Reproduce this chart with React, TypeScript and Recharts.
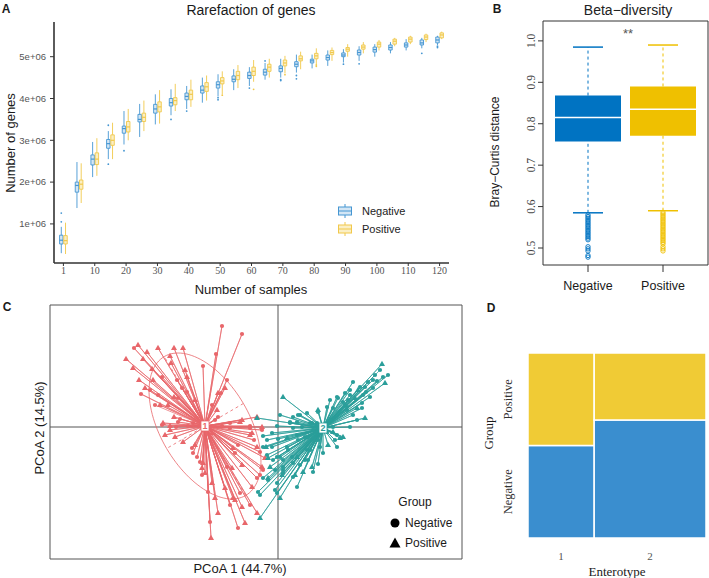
import React from 'react';
import { ComposedChart, Scatter, XAxis, YAxis, ReferenceArea, ReferenceLine } from 'recharts';

const SANS = '"Liberation Sans", Arial, Helvetica, sans-serif';
const SERIF = '"Liberation Serif", "Times New Roman", serif';

// ---------------- Panel A: rarefaction of genes (millions) ----------------
const sampleSizes = [1, 5, 10, 15, 20, 25, 30, 35, 40, 45, 50, 55, 60, 65, 70, 75, 80, 85, 90, 95, 100, 105, 110, 115, 120];
const sampleTickLabels = [1, 10, 20, 30, 40, 50, 60, 70, 80, 90, 100, 110, 120];
const geneTicks = [1, 2, 3, 4, 5];
// [lower whisker, Q1, median, Q3, upper whisker]
const negativeRare = [
  [0.3, 0.52, 0.61, 0.73, 0.93], [1.38, 1.76, 1.92, 2.0, 2.48], [2.12, 2.41, 2.55, 2.65, 2.96],
  [2.55, 2.81, 2.92, 3.02, 3.22], [2.9, 3.17, 3.28, 3.34, 3.7], [3.08, 3.44, 3.5, 3.62, 3.87],
  [3.38, 3.65, 3.75, 3.86, 4.1], [3.6, 3.82, 3.9, 4.0, 4.22], [3.75, 3.97, 4.05, 4.13, 4.3],
  [3.9, 4.13, 4.2, 4.3, 4.5], [4.05, 4.25, 4.33, 4.4, 4.58], [4.2, 4.4, 4.46, 4.54, 4.7],
  [4.3, 4.48, 4.55, 4.63, 4.75], [4.45, 4.56, 4.63, 4.7, 4.85], [4.5, 4.64, 4.72, 4.78, 4.95],
  [4.62, 4.76, 4.82, 4.88, 5.05], [4.72, 4.85, 4.9, 4.94, 5.05], [4.78, 4.92, 4.98, 5.04, 5.15],
  [4.86, 5.0, 5.04, 5.09, 5.18], [4.9, 5.04, 5.1, 5.16, 5.25], [5.0, 5.11, 5.17, 5.23, 5.3],
  [5.08, 5.16, 5.22, 5.28, 5.35], [5.15, 5.23, 5.28, 5.33, 5.42], [5.2, 5.28, 5.33, 5.4, 5.45],
  [5.28, 5.33, 5.4, 5.47, 5.5],
];
const positiveRare = [
  [0.28, 0.52, 0.6, 0.72, 1.03], [1.5, 1.83, 1.95, 2.05, 2.45], [2.15, 2.42, 2.55, 2.7, 3.05],
  [2.55, 2.88, 3.0, 3.13, 3.42], [3.0, 3.2, 3.32, 3.45, 3.75], [3.22, 3.45, 3.55, 3.65, 3.95],
  [3.4, 3.68, 3.8, 3.92, 4.2], [3.7, 3.85, 3.95, 4.02, 4.35], [3.8, 3.97, 4.1, 4.2, 4.45],
  [3.95, 4.17, 4.28, 4.38, 4.55], [4.1, 4.35, 4.42, 4.5, 4.65], [4.25, 4.45, 4.55, 4.65, 4.8],
  [4.4, 4.55, 4.65, 4.75, 4.92], [4.5, 4.65, 4.75, 4.82, 4.95], [4.6, 4.78, 4.85, 4.92, 5.02],
  [4.7, 4.9, 4.95, 5.02, 5.12], [4.8, 4.95, 5.02, 5.08, 5.2], [4.9, 5.05, 5.1, 5.15, 5.22],
  [5.0, 5.13, 5.18, 5.22, 5.3], [5.08, 5.18, 5.23, 5.28, 5.35], [5.15, 5.23, 5.3, 5.35, 5.4],
  [5.25, 5.3, 5.37, 5.42, 5.45], [5.3, 5.35, 5.42, 5.47, 5.5], [5.35, 5.41, 5.47, 5.52, 5.55],
  [5.42, 5.45, 5.52, 5.57, 5.6],
];
// [sample size, genes (millions)]
const negativeRareOutliers = [
  [1, 1.05], [1, 1.26], [15, 2.43], [15, 3.36], [20, 2.75], [35, 3.5], [40, 3.7], [50, 3.97], [50, 4.02],
  [60, 4.25], [65, 4.9], [70, 4.45], [70, 4.43], [75, 4.55], [75, 4.47], [90, 4.82], [95, 4.83],
  [115, 5.08], [120, 5.25], [120, 5.22],
];
const positiveRareOutliers = [[50, 4.08], [60, 4.22], [70, 4.57], [80, 4.77], [80, 4.8]];

// ---------------- Panel B: beta diversity ----------------
const betaGroups = ['Negative', 'Positive'];
const betaTicks = [0.5, 0.6, 0.7, 0.8, 0.9, 1.0];
// [lower whisker, Q1, median, Q3, upper whisker]
const betaStats = [
  [0.585, 0.757, 0.815, 0.868, 0.985],
  [0.59, 0.771, 0.835, 0.89, 0.99],
];
const betaNegativeOutliers = [0.58, 0.576, 0.572, 0.568, 0.564, 0.56, 0.556, 0.552, 0.548, 0.544, 0.54, 0.536, 0.532, 0.528, 0.524, 0.52, 0.503, 0.498, 0.493, 0.482, 0.478];
const betaPositiveOutliers = [0.586, 0.582, 0.578, 0.574, 0.57, 0.566, 0.562, 0.558, 0.554, 0.55, 0.546, 0.542, 0.538, 0.534, 0.53, 0.526, 0.522, 0.518, 0.514, 0.51, 0.503, 0.498, 0.493];

// ---------------- Panel C: PCoA ----------------
const enterotype1Centroid = [-73, 1];
const enterotype2Centroid = [45, -1];
// [PCoA1, PCoA2, group] c = Negative, t = Positive
const enterotype1Points: [number, number, string][] = [
  [-56, 101, 'c'], [-36, 93, 'c'], [-140, 82, 't'], [-144, 79, 'c'], [-131, 75, 't'], [-120, 79, 't'], [-104, 79, 't'], [-95, 79, 't'],
  [-152, 68, 't'], [-135, 68, 't'], [-108, 71, 't'], [-62, 73, 'c'], [-145, 59, 't'], [-126, 58, 't'], [-107, 64, 't'], [-75, 61, 'c'],
  [-93, 57, 't'], [-139, 47, 't'], [-125, 47, 't'], [-101, 47, 'c'], [-91, 50, 't'], [-116, 50, 'c'], [-133, 39, 't'], [-128, 37, 'c'],
  [-120, 32, 'c'], [-96, 39, 'c'], [-91, 35, 'c'], [-137, 33, 'c'], [-51, 47, 'c'], [-53, 39, 't'], [-57, 34, 'c'], [-60, 34, 't'],
  [-104, 30, 't'], [-100, 29, 'c'], [-83, 27, 't'], [-110, 22, 't'], [-118, 22, 't'], [-66, 22, 'c'], [-61, 17, 't'], [-104, 10, 't'],
  [-98, 8, 'c'], [-115, 4, 't'], [-108, 1, 't'], [-102, 0, 'c'], [-90, 1, 'c'], [-63, 7, 'c'], [-60, 10, 'c'], [-21, 10, 't'],
  [-36, 7, 't'], [-48, 4, 'c'], [-16, 0, 't'], [-28, 1, 'c'], [-116, 2, 'c'], [-113, -8, 't'], [-103, -10, 't'], [-100, 5, 'c'],
  [-85, 4, 'c'], [-56, 1, 'c'], [-48, -1, 'c'], [-38, 5, 't'], [-26, -6, 't'], [-28, -1, 'c'], [-16, -3, 'c'], [-95, -15, 't'],
  [-86, -21, 'c'], [-85, -26, 'c'], [-81, -30, 'c'], [-83, -18, 't'], [-78, -35, 'c'], [-75, -36, 't'], [-76, -41, 't'], [-73, -46, 't'],
  [-76, -48, 'c'], [-66, -56, 't'], [-70, -65, 'c'], [-63, -71, 't'], [-60, -86, 't'], [-68, -95, 'c'], [-67, -111, 't'], [-51, -40, 'c'],
  [-46, -41, 't'], [-43, -26, 'c'], [-36, -38, 't'], [-53, -61, 't'], [-45, -71, 't'], [-38, -66, 'c'], [-48, -78, 'c'], [-43, -73, 't'],
  [-36, -80, 't'], [-26, -60, 't'], [-21, -51, 'c'], [-18, -48, 'c'], [-16, -40, 't'], [-18, -25, 'c'], [-21, -20, 't'], [-24, -13, 'c'],
  [-28, -8, 't'], [-40, -18, 'c'], [-45, -21, 't'], [-40, -101, 'c'], [-33, -96, 't'], [-21, -86, 't'], [-28, -78, 'c'], [-108, -3, 't'],
  [-66, -6, 't'], [-13, -31, 't'], [-15, -43, 'c'], [-123, 22, 'c'],
];
const enterotype2Points: [number, number, string][] = [
  [104, 63, 't'], [107, 44, 't'], [105, 50, 'c'], [99, 46, 'c'], [95, 47, 'c'], [75, 45, 'c'], [87, 40, 'c'], [80, 37, 't'],
  [72, 32, 'c'], [60, 29, 'c'], [5, 30, 't'], [85, 32, 'c'], [84, 19, 'c'], [87, 9, 't'], [75, 12, 'c'], [79, 7, 'c'],
  [69, 17, 'c'], [65, 25, 'c'], [55, 19, 'c'], [49, 20, 'c'], [40, 15, 'c'], [22, 12, 'c'], [12, 5, 'c'], [19, 5, 'c'],
  [-1, 1, 'c'], [15, -1, 'c'], [34, 4, 'c'], [-21, 9, 't'], [-15, -9, 'c'], [55, -5, 't'], [62, -11, 't'], [65, -10, 't'],
  [57, -13, 'c'], [50, -18, 't'], [59, -20, 'c'], [40, -13, 'c'], [40, -37, 'c'], [29, -23, 'c'], [30, -33, 'c'], [22, -38, 'c'],
  [25, -45, 't'], [15, -50, 'c'], [17, -48, 't'], [19, -60, 'c'], [5, -33, 'c'], [-1, -30, 'c'], [-5, -33, 'c'], [-10, -31, 't'],
  [5, -43, 'c'], [4, -48, 't'], [-10, -51, 't'], [-15, -51, 'c'], [-1, -56, 'c'], [2, -71, 't'], [-18, -68, 'c'], [-3, -63, 'c'],
  [0, -12, 'c'], [9, -11, 't'], [-6, -20, 'c'], [10, -23, 'c'], [14, -30, 'c'], [19, -8, 'c'], [27, -10, 'c'], [-18, -91, 't'],
  [20, 12, 'c'], [90, 45, 'c'], [-12, -20, 't'], [-15, -20, 'c'], [-20, -65, 'c'], [-10, -53, 'c'], [-1, -66, 'c'], [5, -46, 'c'],
  [59, -8, 'c'], [45, -26, 'c'], [35, -45, 'c'], [34, -40, 't'], [19, -30, 't'], [2, 12, 'c'], [-11, -13, 'c'], [-6, -6, 'c'],
  [-11, -28, 'c'], [-8, -40, 't'], [-3, -43, 'c'], [12, 4, 'c'], [15, 10, 'c'], [29, 14, 'c'], [40, 17, 't'], [52, 27, 'c'],
  [59, 30, 'c'], [67, 34, 'c'], [72, 37, 'c'], [82, 40, 'c'], [95, 39, 'c'], [92, 30, 'c'], [84, 24, 'c'], [79, 19, 't'],
  [69, 20, 'c'], [52, 7, 'c'], [55, 0, 'c'], [72, 0, 'c'], [42, -20, 'c'], [32, -23, 'c'], [27, -33, 'c'], [15, -36, 'c'],
  [9, -20, 'c'], [2, -30, 'c'], [5, -40, 'c'], [20, -13, 'c'], [30, -10, 'c'], [49, -5, 'c'], [35, -3, 'c'], [39, 4, 'c'],
  [32, 4, 'c'], [24, 0, 'c'], [70, 27, 'c'], [77, 29, 't'], [88, 35, 'c'], [67, 22, 'c'], [97, 52, 'c'], [110, 52, 'c'], [102, 57, 'c'],
];
// ellipse of enterotype 1: semi-axes and rotation (degrees)
const ellipse1Axes = [80.5, 44.5];
const ellipse1Angle = -59.6;
const pcoaXDomain = [-228, 184];
const pcoaYDomain = [-132, 122];

// ---------------- Panel D: mosaic ----------------
const enterotypeLabels = ['1', '2'];
const enterotypeNegative = [45, 97];
const enterotypePositive = [45, 55];

// ---------------- colours ----------------
const A_NEG = '#4596D2';
const A_NEG_FILL = '#D3E6F5';
const A_POS = '#F1C84B';
const A_POS_FILL = '#FBEFC4';
const B_NEG = '#0073C2';
const B_POS = '#EFC000';
const C_RED = '#E8666A';
const C_TEAL = '#2A9E9A';
const D_YEL = '#F0CB35';
const D_BLUE = '#3A8ECF';

type TP = { x: number; y: number; children: React.ReactNode; size?: number; family?: string; color?: string; rotate?: number; weight?: any; left?: boolean };
const T = ({ x, y, children, size = 12, family = SANS, color = '#1a1a1a', rotate = 0, weight = 'normal', left = false }: TP) => (
  <div
    style={{
      position: 'absolute', left: x, top: y,
      transform: `translate(${left ? '0' : '-50%'},-50%) rotate(${rotate}deg)`,
      fontSize: size, fontFamily: family, color, fontWeight: weight, whiteSpace: 'nowrap', lineHeight: 1,
    }}
  >
    {children}
  </div>
);

function rareElements(stats: number[][], offset: number, stroke: string, fill: string, key: string) {
  const HW = 0.11;
  return stats.flatMap((s, i) => {
    const cx = i + offset;
    const [lo, q1, med, q3, hi] = s;
    return [
      <ReferenceLine key={`${key}wl${i}`} segment={[{ x: cx, y: lo }, { x: cx, y: q1 }]} stroke={stroke} strokeWidth={0.9} ifOverflow="visible" />,
      <ReferenceLine key={`${key}wh${i}`} segment={[{ x: cx, y: q3 }, { x: cx, y: hi }]} stroke={stroke} strokeWidth={0.9} ifOverflow="visible" />,
      <ReferenceArea key={`${key}b${i}`} x1={cx - HW} x2={cx + HW} y1={q1} y2={q3} fill={fill} fillOpacity={1} stroke={stroke} strokeWidth={0.9} ifOverflow="visible" />,
      <ReferenceLine key={`${key}m${i}`} segment={[{ x: cx - HW, y: med }, { x: cx + HW, y: med }]} stroke={stroke} strokeWidth={1.2} ifOverflow="visible" />,
    ];
  });
}

function PanelA() {
  const xTicks = sampleTickLabels.map((v) => sampleSizes.indexOf(v));
  const OFF = 0.135;
  const negOut = negativeRareOutliers.map(([s, v]) => ({ x: sampleSizes.indexOf(s) - OFF, y: v }));
  const posOut = positiveRareOutliers.map(([s, v]) => ({ x: sampleSizes.indexOf(s) + OFF, y: v }));
  return (
    <div style={{ position: 'absolute', left: 0, top: 0, width: 470, height: 300 }}>
      <ComposedChart width={470} height={300} margin={{ top: 22, right: 21, bottom: 17, left: 0 }}>
        <XAxis type="number" dataKey="x" domain={[-0.6, 24.6]} allowDataOverflow ticks={xTicks} interval={0}
          tickFormatter={(v: number) => String(sampleSizes[v])} height={20}
          axisLine={{ stroke: '#333', strokeWidth: 1.6 }} tickLine={{ stroke: '#333' }} tickSize={3} tickMargin={1}
          tick={{ fontFamily: SERIF, fontSize: 10, fill: '#555' }} />
        <YAxis type="number" dataKey="y" domain={[0.065, 5.83]} allowDataOverflow ticks={geneTicks} width={54}
          tickFormatter={(v: number) => `${v}e+06`}
          axisLine={{ stroke: '#333', strokeWidth: 1.6 }} tickLine={{ stroke: '#333' }} tickSize={4} tickMargin={4}
          tick={{ fontFamily: SANS, fontSize: 9.5, fill: '#555' }} />
        {rareElements(negativeRare, -OFF, A_NEG, A_NEG_FILL, 'n')}
        {rareElements(positiveRare, OFF, A_POS, A_POS_FILL, 'p')}
        <Scatter data={negOut} isAnimationActive={false} shape={(p: any) => <circle cx={p.cx} cy={p.cy} r={0.9} fill={A_NEG} />} />
        <Scatter data={posOut} isAnimationActive={false} shape={(p: any) => <circle cx={p.cx} cy={p.cy} r={0.9} fill={A_POS} />} />
      </ComposedChart>
    </div>
  );
}

function PanelB() {
  const colors = [B_NEG, B_POS];
  const HW = 0.44;
  const CAP = 0.2;
  const els = betaStats.flatMap((s, i) => {
    const cx = i + 1;
    const [lo, q1, med, q3, hi] = s;
    const c = colors[i];
    return [
      <ReferenceLine key={`bwl${i}`} segment={[{ x: cx, y: lo }, { x: cx, y: q1 }]} stroke={c} strokeWidth={1} strokeDasharray="3 3" ifOverflow="visible" />,
      <ReferenceLine key={`bwh${i}`} segment={[{ x: cx, y: q3 }, { x: cx, y: hi }]} stroke={c} strokeWidth={1} strokeDasharray="3 3" ifOverflow="visible" />,
      <ReferenceLine key={`bcl${i}`} segment={[{ x: cx - CAP, y: lo }, { x: cx + CAP, y: lo }]} stroke={c} strokeWidth={1.5} ifOverflow="visible" />,
      <ReferenceLine key={`bch${i}`} segment={[{ x: cx - CAP, y: hi }, { x: cx + CAP, y: hi }]} stroke={c} strokeWidth={1.5} ifOverflow="visible" />,
      <ReferenceArea key={`bb${i}`} x1={cx - HW} x2={cx + HW} y1={q1} y2={q3} fill={c} fillOpacity={1} stroke="none" ifOverflow="visible" />,
      <ReferenceLine key={`bm${i}`} segment={[{ x: cx - HW, y: med }, { x: cx + HW, y: med }]} stroke="#fff" strokeWidth={1.6} ifOverflow="visible" />,
    ];
  });
  const negOut = betaNegativeOutliers.map((v) => ({ x: 1, y: v }));
  const posOut = betaPositiveOutliers.map((v) => ({ x: 2, y: v }));
  const ring = (c: string) => (p: any) => <circle cx={p.cx} cy={p.cy} r={2.2} fill="none" stroke={c} strokeWidth={0.9} />;
  return (
    <div style={{ position: 'absolute', left: 480, top: 0, width: 229, height: 300 }}>
      <ComposedChart width={229} height={300} margin={{ top: 21, right: 1, bottom: 5, left: 0 }}>
        <XAxis type="number" dataKey="x" domain={[0.4, 2.6]} allowDataOverflow ticks={[1, 2]} interval={0}
          tickFormatter={(v: number) => betaGroups[v - 1]} height={30} axisLine={false}
          tickLine={{ stroke: '#333' }} tickSize={7} tickMargin={9}
          tick={{ fontFamily: SANS, fontSize: 12.5, fill: '#1a1a1a' }} />
        <YAxis type="number" dataKey="y" domain={[0.459, 1.048]} allowDataOverflow ticks={betaTicks} width={63} interval={0}
          axisLine={false} tickLine={{ stroke: '#333' }} tickSize={5} tickMargin={2}
          tick={(p: any) => (
            <text x={p.x - 1} y={p.y} transform={`rotate(-90 ${p.x - 1} ${p.y})`} textAnchor="middle"
              fontFamily={SERIF} fontSize={11.5} fill="#444">{Number(p.payload.value).toFixed(1)}</text>
          )} />
        <ReferenceArea x1={0.4} x2={2.6} y1={0.459} y2={1.048} fill="none" stroke="#333" strokeWidth={1} ifOverflow="visible" />
        {els}
        <Scatter data={negOut} isAnimationActive={false} shape={ring(B_NEG)} />
        <Scatter data={posOut} isAnimationActive={false} shape={ring(B_POS)} />
      </ComposedChart>
    </div>
  );
}

const pointShape = (color: string) => (p: any) =>
  p.payload.s === 't' ? (
    <path d={`M${p.cx},${p.cy - 3.3}L${p.cx + 3},${p.cy + 2}L${p.cx - 3},${p.cy + 2}Z`} fill={color} />
  ) : (
    <circle cx={p.cx} cy={p.cy} r={2.1} fill={color} />
  );

const centroidShape = (color: string, label: string) => (p: any) => (
  <g>
    <rect x={p.cx - 4} y={p.cy - 5} width={8} height={10} fill="#fff" stroke={color} strokeWidth={0.8} />
    <text x={p.cx} y={p.cy + 3.3} textAnchor="middle" fontFamily={SANS} fontSize={9} fontWeight="bold" fill={color}>{label}</text>
  </g>
);

function PanelC() {
  const toObj = (pts: [number, number, string][]) => pts.map(([x, y, s]) => ({ x, y, s }));
  const spokes = (pts: [number, number, string][], c: number[]) =>
    pts.flatMap(([x, y]) => [{ x: c[0], y: c[1] }, { x, y }]);
  const [a, b] = ellipse1Axes;
  const phi = (ellipse1Angle * Math.PI) / 180;
  const ell = Array.from({ length: 121 }, (_, k) => {
    const t = (k / 120) * 2 * Math.PI;
    return {
      x: enterotype1Centroid[0] + a * Math.cos(t) * Math.cos(phi) - b * Math.sin(t) * Math.sin(phi),
      y: enterotype1Centroid[1] + a * Math.cos(t) * Math.sin(phi) + b * Math.sin(t) * Math.cos(phi),
    };
  });
  const [cx1, cy1] = enterotype1Centroid;
  const majA = { x: cx1 + a * Math.cos(phi), y: cy1 + a * Math.sin(phi) };
  const majB = { x: cx1 - a * Math.cos(phi), y: cy1 - a * Math.sin(phi) };
  const minA = { x: cx1 - b * Math.sin(phi), y: cy1 + b * Math.cos(phi) };
  const minB = { x: cx1 + b * Math.sin(phi), y: cy1 - b * Math.cos(phi) };
  const none = () => <g />;
  return (
    <div style={{ position: 'absolute', left: 0, top: 290, width: 480, height: 288 }}>
      <ComposedChart width={480} height={288} margin={{ top: 15, right: 18, bottom: 19, left: 50 }}>
        <XAxis type="number" dataKey="x" domain={pcoaXDomain} allowDataOverflow hide />
        <YAxis type="number" dataKey="y" domain={pcoaYDomain} allowDataOverflow hide />
        <ReferenceArea x1={pcoaXDomain[0]} x2={pcoaXDomain[1]} y1={pcoaYDomain[0]} y2={pcoaYDomain[1]} fill="none" stroke="#555" strokeWidth={1} ifOverflow="visible" />
        <ReferenceLine x={0} stroke="#555" strokeWidth={1} />
        <ReferenceLine y={0} stroke="#555" strokeWidth={1} />
        <ReferenceLine segment={[majA, majB]} stroke={C_RED} strokeWidth={0.8} strokeDasharray="3 3" />
        <ReferenceLine segment={[minA, minB]} stroke={C_RED} strokeWidth={0.8} strokeDasharray="3 3" />
        <Scatter data={ell} isAnimationActive={false} line={{ stroke: C_RED, strokeWidth: 0.8 }} shape={none} />
        <Scatter data={spokes(enterotype1Points, enterotype1Centroid)} isAnimationActive={false} line={{ stroke: C_RED, strokeWidth: 0.7 }} shape={none} />
        <Scatter data={spokes(enterotype2Points, enterotype2Centroid)} isAnimationActive={false} line={{ stroke: C_TEAL, strokeWidth: 0.7 }} shape={none} />
        <Scatter data={toObj(enterotype1Points)} isAnimationActive={false} shape={pointShape(C_RED)} />
        <Scatter data={toObj(enterotype2Points)} isAnimationActive={false} shape={pointShape(C_TEAL)} />
        <Scatter data={[{ x: enterotype1Centroid[0], y: enterotype1Centroid[1] }]} isAnimationActive={false} shape={centroidShape(C_RED, '1')} />
        <Scatter data={[{ x: enterotype2Centroid[0], y: enterotype2Centroid[1] }]} isAnimationActive={false} shape={centroidShape(C_TEAL, '2')} />
      </ComposedChart>
    </div>
  );
}

function PanelD() {
  const totals = enterotypeNegative.map((n, i) => n + enterotypePositive[i]);
  const grand = totals.reduce((s, v) => s + v, 0);
  const widths = totals.map((t) => t / grand);
  const starts = widths.map((_, i) => widths.slice(0, i).reduce((s, v) => s + v, 0));
  const negFrac = enterotypeNegative.map((n, i) => n / totals[i]);
  const cells = enterotypeLabels.flatMap((_, i) => [
    <ReferenceArea key={`dn${i}`} x1={starts[i]} x2={starts[i] + widths[i]} y1={0} y2={negFrac[i]} fill={D_BLUE} fillOpacity={1} stroke="#fff" strokeWidth={1.5} ifOverflow="visible" />,
    <ReferenceArea key={`dp${i}`} x1={starts[i]} x2={starts[i] + widths[i]} y1={negFrac[i]} y2={1} fill={D_YEL} fillOpacity={1} stroke="#fff" strokeWidth={1.5} ifOverflow="visible" />,
  ]);
  const xTicks = widths.map((w, i) => starts[i] + w / 2);
  const yTicks = [negFrac[0] / 2, negFrac[0] + (1 - negFrac[0]) / 2];
  return (
    <div style={{ position: 'absolute', left: 480, top: 290, width: 229, height: 288 }}>
      <ComposedChart width={229} height={288} margin={{ top: 63, right: 3, bottom: 20, left: 0 }}>
        <XAxis type="number" dataKey="x" domain={[0, 1]} allowDataOverflow ticks={xTicks} interval={0}
          tickFormatter={(_v: number, i: number) => enterotypeLabels[i]} height={20} axisLine={false} tickLine={false}
          tickMargin={8} tick={{ fontFamily: SERIF, fontSize: 11, fill: '#555' }} />
        <YAxis type="number" dataKey="y" domain={[0, 1]} allowDataOverflow ticks={yTicks} width={48} interval={0}
          axisLine={false} tickLine={false}
          tick={(p: any) => (
            <text x={p.x - 8} y={p.y} transform={`rotate(-90 ${p.x - 8} ${p.y})`} textAnchor="middle"
              fontFamily={SERIF} fontSize={12.5} fill="#333">{p.index === 0 ? 'Negative' : 'Positive'}</text>
          )} />
        {cells}
      </ComposedChart>
    </div>
  );
}

export default function App() {
  return (
    <div style={{ position: 'absolute', left: 0, top: 0, width: 709, height: 578, background: '#fff', overflow: 'hidden' }}>
      <PanelA />
      <PanelB />
      <PanelC />
      <PanelD />
      {/* Panel letters */}
      <T x={6} y={9} size={12} weight="bold">A</T>
      <T x={497} y={9} size={12} weight="bold">B</T>
      <T x={7} y={307} size={12} weight="bold">C</T>
      <T x={491} y={308} size={12} weight="bold">D</T>
      {/* Panel A text */}
      <T x={251} y={10} size={14}>Rarefaction of genes</T>
      <T x={251} y={289} size={13}>Number of samples</T>
      <T x={10} y={143} size={13} rotate={-90}>Number of genes</T>
      <div style={{ position: 'absolute', left: 337, top: 202, fontFamily: SANS, fontSize: 11, color: '#222' }}>
        {[{ n: 'Negative', s: A_NEG, f: A_NEG_FILL }, { n: 'Positive', s: A_POS, f: A_POS_FILL }].map((g) => (
          <div key={g.n} style={{ display: 'flex', alignItems: 'center', height: 18 }}>
            <svg width={16} height={16} style={{ marginRight: 9 }}>
              <line x1={8} y1={1} x2={8} y2={15} stroke={g.s} strokeWidth={1} />
              <rect x={1.5} y={4} width={13} height={8} fill={g.f} stroke={g.s} strokeWidth={1} />
              <line x1={1.5} y1={8} x2={14.5} y2={8} stroke={g.s} strokeWidth={1} />
            </svg>
            <span>{g.n}</span>
          </div>
        ))}
      </div>
      {/* Panel B text */}
      <T x={628} y={10} size={14} color="#222">Beta−diversity</T>
      <T x={628} y={33} size={13} color="#555">**</T>
      <T x={495} y={152} size={12} rotate={-90}>Bray−Curtis distance</T>
      {/* Panel C text */}
      <T x={240} y={568} size={13}>PCoA 1 (44.7%)</T>
      <T x={39} y={428} size={13} rotate={-90}>PCoA 2 (14.5%)</T>
      <T x={415} y={502} size={12}>Group</T>
      <div style={{ position: 'absolute', left: 389, top: 513, fontFamily: SANS, fontSize: 12, color: '#1a1a1a' }}>
        {['Negative', 'Positive'].map((n, i) => (
          <div key={n} style={{ display: 'flex', alignItems: 'center', height: 20 }}>
            <svg width={12} height={12} style={{ marginRight: 4 }}>
              {i === 0 ? <circle cx={6} cy={6} r={4.5} fill="#000" /> : <path d="M6,0.5L11.5,10.5L0.5,10.5Z" fill="#000" />}
            </svg>
            <span>{n}</span>
          </div>
        ))}
      </div>
      {/* Panel D text */}
      <T x={617} y={571} size={13} family={SERIF}>Enterotype</T>
      <T x={488} y={433} size={13} family={SERIF} rotate={-90}>Group</T>
    </div>
  );
}
